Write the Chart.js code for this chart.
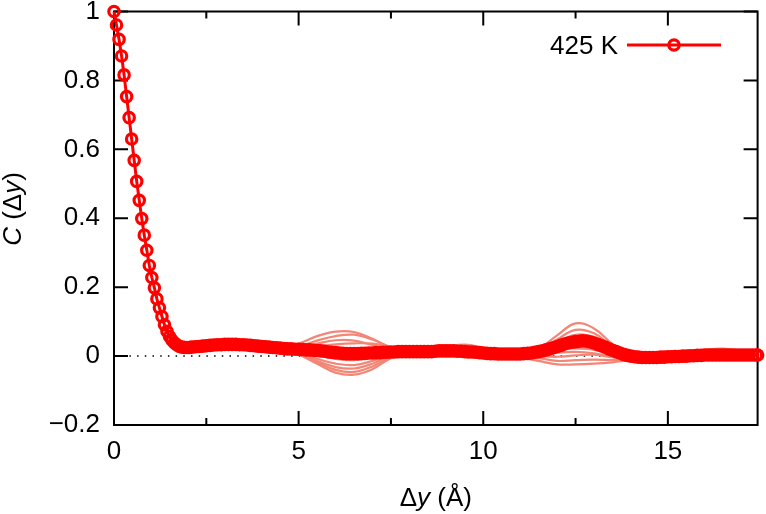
<!DOCTYPE html>
<html><head><meta charset="utf-8">
<script src="https://cdn.jsdelivr.net/npm/chart.js@4.4.0/dist/chart.umd.min.js"></script>
<style>html,body{margin:0;padding:0;background:#fff;}</style>
</head><body>
<canvas id="c" width="766" height="514"></canvas>
<script>
// ---- data ----
const mainX = [0, 0.068, 0.137, 0.205, 0.273, 0.342, 0.41, 0.478, 0.547, 0.615, 0.684, 0.752, 0.82, 0.889, 0.957, 1.025, 1.094, 1.162, 1.23, 1.299, 1.367, 1.435, 1.504, 1.572, 1.64, 1.709, 1.777, 1.845, 1.914, 1.982, 2.05,
  2.1, 2.2, 2.3, 2.4, 2.5, 2.6, 2.7, 2.8, 2.9, 3.0,
  3.1, 3.2, 3.3, 3.4, 3.5, 3.6, 3.7, 3.8, 3.9, 4.0,
  4.1, 4.2, 4.3, 4.4, 4.5, 4.6, 4.7, 4.8, 4.9, 5.0,
  5.1, 5.2, 5.3, 5.4, 5.5, 5.6, 5.7, 5.8, 5.9, 6.0,
  6.1, 6.2, 6.3, 6.4, 6.5, 6.6, 6.7, 6.8, 6.9, 7.0,
  7.1, 7.2, 7.3, 7.4, 7.5, 7.6, 7.7, 7.8, 7.9, 8.0,
  8.1, 8.2, 8.3, 8.4, 8.5, 8.6, 8.7, 8.8, 8.9, 9.0,
  9.1, 9.2, 9.3, 9.4, 9.5, 9.6, 9.7, 9.8, 9.9, 10.0,
  10.1, 10.2, 10.3, 10.4, 10.5, 10.6, 10.7, 10.8, 10.9, 11.0,
  11.1, 11.2, 11.3, 11.4, 11.5, 11.6, 11.7, 11.8, 11.9, 12.0,
  12.1, 12.2, 12.3, 12.4, 12.5, 12.6, 12.7, 12.8, 12.9, 13.0,
  13.1, 13.2, 13.3, 13.4, 13.5, 13.6, 13.7, 13.8, 13.9, 14.0,
  14.1, 14.2, 14.3, 14.4, 14.5, 14.6, 14.7, 14.8, 14.9, 15.0,
  15.1, 15.2, 15.3, 15.4, 15.5, 15.6, 15.7, 15.8, 15.9, 16.0,
  16.1, 16.2, 16.3, 16.4, 16.5, 16.6, 16.7, 16.8, 16.9, 17.0,
  17.1, 17.2, 17.3, 17.4, 17.43];
const mainC = [1.000, 0.961, 0.919, 0.871, 0.816, 0.753, 0.692, 0.630, 0.568, 0.507, 0.452, 0.399, 0.351, 0.307, 0.263, 0.228, 0.198, 0.166, 0.140, 0.115, 0.091, 0.072, 0.057, 0.046, 0.038, 0.032, 0.028, 0.026, 0.025, 0.025, 0.025,
  0.026, 0.027, 0.028, 0.029, 0.030, 0.031, 0.032, 0.033, 0.033, 0.034,
  0.034, 0.034, 0.034, 0.033, 0.033, 0.032, 0.031, 0.030, 0.029, 0.028,
  0.027, 0.026, 0.025, 0.024, 0.023, 0.022, 0.021, 0.021, 0.020, 0.020,
  0.019, 0.018, 0.018, 0.017, 0.016, 0.015, 0.014, 0.012, 0.011, 0.010,
  0.009, 0.008, 0.007, 0.007, 0.007, 0.007, 0.008, 0.008, 0.009, 0.009,
  0.010, 0.010, 0.011, 0.011, 0.012, 0.012, 0.013, 0.013, 0.013, 0.013,
  0.013, 0.013, 0.013, 0.013, 0.013, 0.013, 0.014, 0.015, 0.015, 0.015,
  0.015, 0.015, 0.014, 0.014, 0.013, 0.012, 0.012, 0.011, 0.010, 0.009,
  0.008, 0.007, 0.007, 0.006, 0.006, 0.006, 0.006, 0.006, 0.006, 0.006,
  0.007, 0.008, 0.009, 0.011, 0.013, 0.015, 0.018, 0.021, 0.024, 0.028,
  0.031, 0.035, 0.038, 0.040, 0.042, 0.043, 0.044, 0.043, 0.041, 0.038,
  0.034, 0.030, 0.026, 0.021, 0.017, 0.013, 0.009, 0.005, 0.002, 0.000,
  -0.002, -0.003, -0.004, -0.004, -0.004, -0.004, -0.004, -0.003, -0.003, -0.002,
  -0.002, -0.001, -0.001, 0.000, 0.000, 0.001, 0.001, 0.002, 0.002, 0.003,
  0.003, 0.003, 0.003, 0.003, 0.003, 0.003, 0.003, 0.003, 0.003, 0.003,
  0.003, 0.003, 0.003, 0.003, 0.003];

const sampleX = [1.5, 2.0, 2.5, 3.0, 3.5, 4.0, 4.5, 5.0, 5.5, 6.0, 6.5, 7.0, 7.5, 8.0, 8.5, 9.0, 9.5, 10.0, 10.5, 11.0, 11.5, 12.0, 12.5, 13.0, 13.5, 14.0, 14.5, 15.0, 15.5, 16.0, 16.5, 17.0, 17.43];
const sampleA = [.057,.026,.034,.040,.038,.030,.026,.036,.058,.071,.070,.050,.024,.016,.014,.018,.017,.011,.007,.008,.022,.060,.095,.080,.035,.004,-.002,.000,.004,.008,.006,.004,.003];
const sampleB = [.057,.024,.031,.036,.034,.027,.022,.028,.045,.058,.062,.048,.026,.014,.012,.014,.012,.007,.004,.006,.018,.048,.076,.066,.028,.002,-.004,-.003,.001,.004,.003,.002,.002];
const sampleC = [.057,.025,.029,.033,.033,.029,.024,.024,.036,.046,.045,.032,.018,.012,.014,.020,.024,.016,.008,.005,.015,.040,.062,.056,.024,.000,-.005,-.001,.002,.006,.005,.004,.003];
const sampleD = [.057,.027,.033,.037,.035,.028,.021,.022,.028,.034,.037,.036,.026,.015,.016,.026,.033,.024,.010,.004,.012,.034,.052,.048,.020,-.001,-.006,.000,.010,.018,.022,.015,.008];
const sampleE = [.057,.025,.031,.035,.034,.029,.024,.020,.018,.016,.015,.014,.013,.012,.012,.014,.012,.008,.005,.006,.012,.024,.032,.028,.012,-.002,-.005,-.003,.000,.002,.002,.002,.002];
const sampleF = [.057,.024,.028,.032,.031,.027,.022,.014,.004,-.008,-.012,-.004,.008,.012,.012,.013,.011,.008,.006,.007,.012,.020,.022,.018,.004,-.006,-.007,-.004,-.001,.002,.002,.002,.002];
const sampleG = [.057,.023,.027,.030,.030,.026,.020,.010,-.008,-.022,-.026,-.014,.004,.011,.013,.014,.012,.008,.005,.004,.006,.010,.012,.008,-.002,-.008,-.008,-.005,-.002,.001,.002,.002,.002];
const sampleH = [.057,.024,.026,.029,.029,.025,.019,.008,-.014,-.032,-.036,-.022,.002,.012,.014,.014,.011,.007,.004,.002,.000,-.002,.002,.004,-.004,-.010,-.009,-.005,-.003,.000,.001,.001,.001];
const sampleI = [.057,.023,.025,.028,.028,.024,.018,.006,-.018,-.040,-.046,-.030,-.002,.010,.012,.012,.010,.006,.003,.000,-.006,-.014,-.012,-.010,-.012,-.012,-.009,-.006,-.003,-.001,.000,.001,.001];
const sampleJ = [.057,.022,.024,.027,.027,.023,.017,.004,-.022,-.048,-.054,-.038,-.006,.008,.010,.011,.009,.005,.002,-.004,-.014,-.024,-.024,-.022,-.018,-.012,-.008,-.005,-.003,-.001,.000,.001,.001];

const zeroLineX = [0, 17.43];
const zeroLineY = [0, 0];
const xMajorTicks = [0, 5, 10, 15];
const xMinorTicks = [2.5, 7.5, 12.5];
const yMajorTicks = [-0.2, 0, 0.2, 0.4, 0.6, 0.8, 1];
const xRange = [0, 17.43];
const yRange = [-0.2, 1];
const legendLabel = '425 K';

// ---- chart ----
const FONT = '"Liberation Sans", Arial, Helvetica, sans-serif';
const pts = (xs, ys) => xs.map((x, i) => ({x: x, y: ys[i]}));
const sampleSeries = [sampleA, sampleB, sampleC, sampleD, sampleE, sampleF, sampleG, sampleH, sampleI, sampleJ];

const datasets = [];
datasets.push({
  label: legendLabel, data: pts(mainX, mainC), order: 0,
  borderColor: '#ff0000', borderWidth: 3, tension: 0,
  pointRadius: 5.2, pointBorderWidth: 3.2, pointBorderColor: '#ff0000',
  pointBackgroundColor: 'rgba(255,255,255,0)', clip: false
});
sampleSeries.forEach((s, k) => datasets.push({
  label: 'sample ' + (k + 1), data: pts(sampleX, s), order: 1,
  borderColor: 'rgb(243,134,118)', borderWidth: 2.2, pointRadius: 0, tension: 0.4
}));
datasets.push({
  label: 'zero', data: pts(zeroLineX, zeroLineY), order: 2,
  borderColor: '#000', borderWidth: 1.5, borderDash: [1.5, 6.2], pointRadius: 0
});

const fmt = v => { const r = Math.round(v * 10) / 10; return r < 0 ? '\u2212' + Math.abs(r) : String(r); };

const framePlugin = {
  id: 'frame',
  beforeDatasetsDraw(chart) {
    const {ctx, chartArea: a, scales: {x, y}} = chart;
    ctx.save();
    ctx.strokeStyle = '#000';
    ctx.lineWidth = 2;
    ctx.beginPath();
    xMajorTicks.forEach(v => { const p = x.getPixelForValue(v); ctx.moveTo(p, a.bottom); ctx.lineTo(p, a.bottom - 14); ctx.moveTo(p, a.top); ctx.lineTo(p, a.top + 14); });
    xMinorTicks.forEach(v => { const p = x.getPixelForValue(v); ctx.moveTo(p, a.bottom); ctx.lineTo(p, a.bottom - 7); ctx.moveTo(p, a.top); ctx.lineTo(p, a.top + 7); });
    yMajorTicks.forEach(v => { const p = y.getPixelForValue(v); ctx.moveTo(a.left, p); ctx.lineTo(a.left + 14, p); ctx.moveTo(a.right, p); ctx.lineTo(a.right - 14, p); });
    ctx.stroke();
    ctx.strokeRect(a.left, a.top, a.right - a.left, a.bottom - a.top);
    ctx.restore();
  },
  afterDraw(chart) {
    const {ctx, chartArea: a} = chart;
    ctx.save();
    ctx.fillStyle = '#000';
    // x title: Δy (Å)
    const parts = [['\u0394', ''], ['y', 'italic '], [' (\u00C5)', '']];
    const widthOf = ps => ps.reduce((w, p) => { ctx.font = p[1] + '26px ' + FONT; return w + ctx.measureText(p[0]).width; }, 0);
    ctx.textBaseline = 'alphabetic';
    ctx.textAlign = 'left';
    let w = widthOf(parts);
    let cx = (a.left + a.right) / 2 - w / 2;
    parts.forEach(p => { ctx.font = p[1] + '26px ' + FONT; ctx.fillText(p[0], cx, 506); cx += ctx.measureText(p[0]).width; });
    // y title: C (Δy)
    const yparts = [['C', 'italic '], [' (\u0394', ''], ['y', 'italic '], [')', '']];
    w = widthOf(yparts);
    ctx.translate(21, 209);
    ctx.rotate(-Math.PI / 2);
    cx = -w / 2;
    yparts.forEach(p => { ctx.font = p[1] + '26px ' + FONT; ctx.fillText(p[0], cx, 0); cx += ctx.measureText(p[0]).width; });
    ctx.restore();
    // legend
    const d = chart.data.datasets[0];
    ctx.save();
    ctx.font = '26px ' + FONT;
    ctx.fillStyle = '#000';
    ctx.textAlign = 'right';
    ctx.textBaseline = 'alphabetic';
    ctx.fillText(d.label, 618, 53.5);
    ctx.strokeStyle = d.borderColor;
    ctx.lineWidth = d.borderWidth;
    ctx.beginPath(); ctx.moveTo(627, 45); ctx.lineTo(721, 45); ctx.stroke();
    ctx.lineWidth = d.pointBorderWidth;
    ctx.beginPath(); ctx.arc(674, 45, d.pointRadius, 0, Math.PI * 2); ctx.stroke();
    ctx.restore();
  }
};

new Chart(document.getElementById('c'), {
  type: 'line',
  data: {datasets: datasets},
  options: {
    responsive: false, animation: false, devicePixelRatio: 1,
    layout: {padding: {top: 11.5, right: 6, left: 0, bottom: 0}},
    plugins: {legend: {display: false}, tooltip: {enabled: false}},
    scales: {
      x: {
        type: 'linear', min: xRange[0], max: xRange[1],
        grid: {display: false, drawTicks: false}, border: {display: false},
        afterBuildTicks: s => { s.ticks = xMajorTicks.map(v => ({value: v})); },
        afterFit: s => { s.height = 89; s.paddingLeft = 0; s.paddingRight = 0; },
        ticks: {color: '#000', padding: 11, maxRotation: 0, autoSkip: false, font: {family: FONT, size: 26}, callback: v => String(v)}
      },
      y: {
        type: 'linear', min: yRange[0], max: yRange[1],
        grid: {display: false, drawTicks: false}, border: {display: false},
        afterBuildTicks: s => { s.ticks = yMajorTicks.map(v => ({value: v})); },
        afterFit: s => { s.width = 114; s.paddingTop = 0; s.paddingBottom = 0; },
        ticks: {color: '#000', padding: 14, autoSkip: false, font: {family: FONT, size: 26}, callback: v => fmt(v)}
      }
    }
  },
  plugins: [framePlugin]
});
</script>
</body></html>
